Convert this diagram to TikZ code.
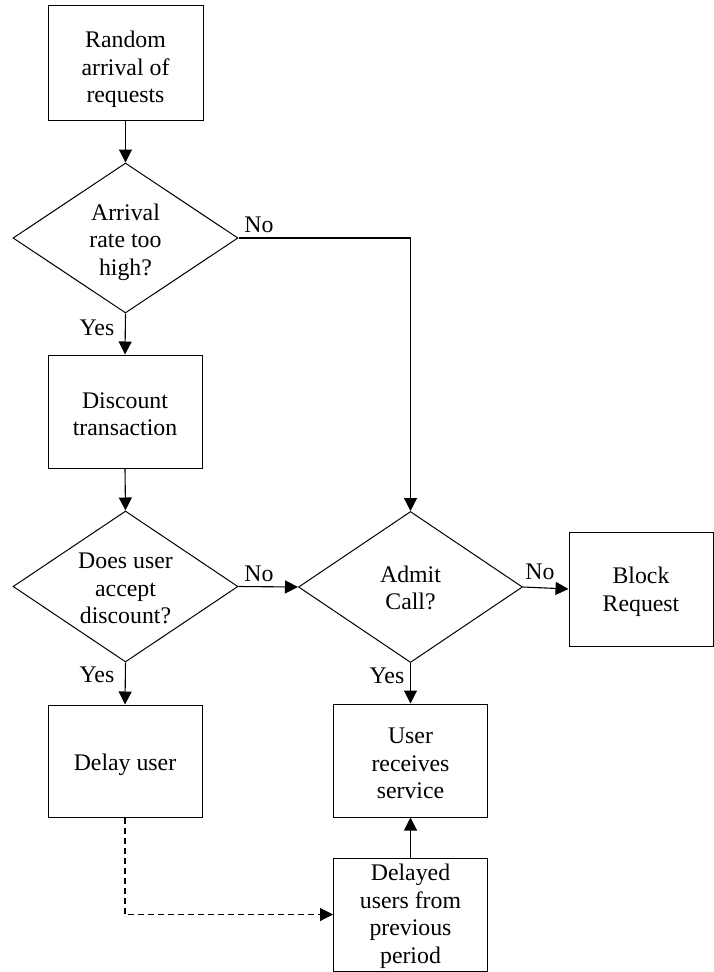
\documentclass[tikz,border=0pt]{standalone}
\usepackage{fontspec}
\setmainfont{Liberation Serif}
\usetikzlibrary{shapes.geometric,arrows.meta}
\newcommand{\shtxt}[2][4pt]{\raisebox{-#1}[\height][\depth]{\begin{tabular}{@{}c@{}}#2\end{tabular}}}
\begin{document}
\begin{tikzpicture}[x=1pt,y=-1pt,
  every node/.style={font=\fontsize{23.8}{27.5}\selectfont, inner sep=0pt},
  procbox/.style={draw, line width=1pt, rectangle},
  decision/.style={draw, line width=1pt, diamond, aspect=1.5},
  flow/.style={line width=1.1pt, -{Triangle[length=13pt,width=13pt]}},
  dashflow/.style={flow, dash pattern=on 6pt off 4pt},
  lbl/.style={}]
\useasboundingbox (0,0) rectangle (714,972);
\node[procbox, minimum width=155pt, minimum height=115pt] (box1) at (125.5,62.5) {\shtxt[7pt]{Random\\arrival of\\requests}};
\node[decision, minimum width=225pt, minimum height=150pt] (d1) at (125.5,238) {\shtxt[4pt]{Arrival\\rate too\\high?}};
\node[procbox, minimum width=154pt, minimum height=113pt] (box2) at (125,411.5) {\shtxt[5pt]{Discount\\transaction}};
\node[decision, minimum width=225pt, minimum height=151pt] (d3) at (125.5,586.5) {\shtxt[4pt]{Does user\\accept\\discount?}};
\node[decision, minimum width=224pt, minimum height=151pt] (d4) at (410.5,587) {\shtxt[3.5pt]{Admit\\Call?}};
\node[procbox, minimum width=144pt, minimum height=114pt] (block) at (641,589) {\shtxt[3pt]{Block\\Request}};
\node[procbox, minimum width=154pt, minimum height=112pt] (delay) at (125,761) {\shtxt[4pt]{Delay user}};
\node[procbox, minimum width=154pt, minimum height=113pt] (user) at (410.5,760.5) {\shtxt[5pt]{User\\receives\\service}};
\node[procbox, minimum width=154pt, minimum height=113pt] (delayed) at (410.5,914.5) {\shtxt[2pt]{Delayed\\users from\\previous\\period}};

\node[lbl] (no1) at (259,225) {No};
\node[lbl] (yes1) at (97,328) {Yes};
\node[lbl] (no2) at (259,574) {No};
\node[lbl] (no3) at (540,572) {No};
\node[lbl] (yes2) at (97,675) {Yes};
\node[lbl] (yes3) at (387,676) {Yes};

\draw[flow] (box1.south) -- (d1.north);
\draw[flow] (d1.east) -| (d4.north);
\draw[flow] (d1.south) -- (box2.north);
\draw[flow] (box2.south) -- (d3.north);
\draw[flow] (d3.east) -- (d4.west);
\draw[flow] (d4.east) -- (block.west);
\draw[flow] (d3.south) -- (delay.north);
\draw[flow] (d4.south) -- (user.north);
\draw[flow] (delayed.north) -- (user.south);
\draw[dashflow] (delay.south) |- (delayed.west);
\end{tikzpicture}
\end{document}
